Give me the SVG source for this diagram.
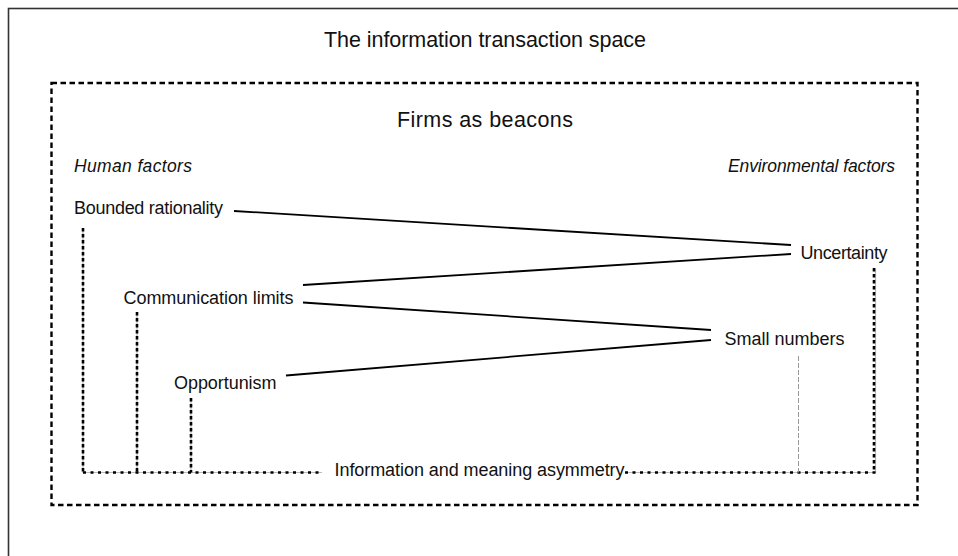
<svg xmlns="http://www.w3.org/2000/svg" width="958" height="556" viewBox="0 0 958 556">
<style>
text{font-family:"Liberation Sans",Arial,sans-serif;fill:#111}
.t{font-size:21.5px}
.l{font-size:18px}
.i{font-size:17.5px;font-style:italic}
.solid{stroke:#000;stroke-width:1.8;fill:none}
.under{stroke:#bbb;stroke-width:1.2;fill:none}
.dk{stroke:#000;stroke-width:2.6;stroke-dasharray:3.5 2.5;fill:none}
.dk2{stroke:#000;stroke-width:2.4;stroke-dasharray:3 4.5;fill:none}
.lt{stroke:#999;stroke-width:1;stroke-dasharray:5 2;fill:none}
</style>
<rect x="0" y="0" width="958" height="556" fill="#fff"/>
<g id="space">
<rect x="8.5" y="8.5" width="1000" height="600" fill="none" stroke="#333" stroke-width="1.6"/>
<text class="t" x="324" y="46.5" textLength="322" lengthAdjust="spacing">The information transaction space</text>
</g>
<g id="beacons">
<rect x="51.5" y="83" width="866" height="422" fill="none" stroke="#000" stroke-width="2.4" stroke-dasharray="5.5 3.5"/>
<text class="t" x="397" y="126.5" textLength="176" lengthAdjust="spacing">Firms as beacons</text>
</g>
<g id="human-factors"><text class="i" x="74" y="172" textLength="118" lengthAdjust="spacing">Human factors</text></g>
<g id="environmental-factors"><text class="i" x="728" y="172" textLength="167" lengthAdjust="spacing">Environmental  factors</text></g>
<g id="bounded-rationality"><text class="l" x="74" y="214" textLength="149" lengthAdjust="spacing">Bounded rationality</text></g>
<g id="uncertainty"><text class="l" x="800.5" y="259" textLength="87" lengthAdjust="spacing">Uncertainty</text></g>
<g id="communication-limits"><text class="l" x="123.5" y="304" textLength="170" lengthAdjust="spacing">Communication limits</text></g>
<g id="small-numbers"><text class="l" x="724.5" y="344.5" textLength="120" lengthAdjust="spacing">Small numbers</text></g>
<g id="opportunism"><text class="l" x="174" y="388.5" textLength="102.5" lengthAdjust="spacing">Opportunism</text></g>
<g id="asymmetry"><text class="l" x="334.5" y="476" textLength="290" lengthAdjust="spacing">Information and meaning asymmetry</text></g>
<g id="connectors">
<line class="solid" x1="234" y1="211" x2="791" y2="245"/>
<line class="solid" x1="791" y1="254" x2="303" y2="285"/>
<line class="solid" x1="303" y1="302.5" x2="711" y2="330"/>
<line class="solid" x1="286" y1="375.5" x2="711" y2="340"/>
<path class="under" d="M83 228V472.5H322M137 312V472.5M191 398V472.5"/>
<path class="dk" d="M83 228V472.5M137 312V472.5M191 398V472.5"/>
<path class="dk2" d="M83 472.5H322"/>
<path class="under" d="M625 472.5H875.5V268"/>
<path class="dk2" d="M625 472.5H875.5"/>
<path class="dk" d="M874 268V472.5"/>
<path class="lt" d="M798.5 356V472.5"/>
</g>
</svg>
